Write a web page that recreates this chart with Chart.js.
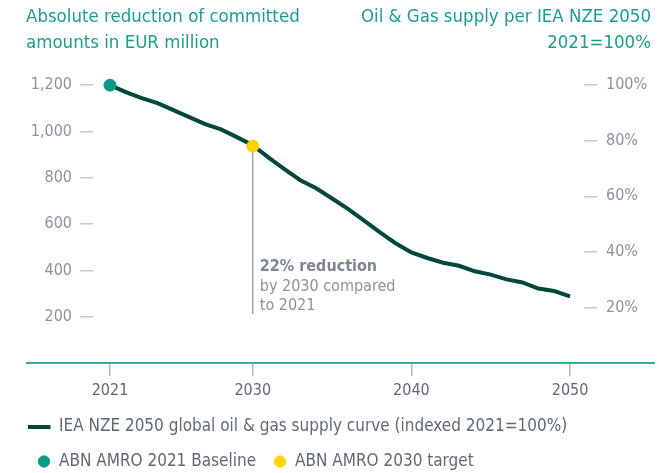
<!DOCTYPE html>
<html>
<head>
<meta charset="utf-8">
<script src="https://cdn.jsdelivr.net/npm/chart.js@4"></script>
<style>
  html, body { margin: 0; padding: 0; background: #fff; overflow: hidden; }
  #wrap { position: relative; width: 659px; height: 473px; }
  .title { position: absolute; top: 3px; font-family: "Liberation Sans Narrow", "DejaVu Sans Condensed", sans-serif; font-size: 18.5px; line-height: 26px; color: #1a9e89; }
  #tl { left: 26px; }
  #tr { right: 8px; text-align: right; }
  canvas { position: absolute; left: 0; top: 0; }
</style>
</head>
<body>
<div id="wrap">
  <canvas id="chart" width="659" height="473"></canvas>
  <div class="title" id="tl">Absolute reduction of committed<br>amounts in EUR million</div>
  <div class="title" id="tr">Oil &amp; Gas supply per IEA NZE 2050<br>2021=100%</div>
</div>
<script>
// data
const years = [2021, 2022, 2023, 2024, 2025, 2026, 2027, 2028, 2029, 2030,
  2031, 2032, 2033, 2034, 2035, 2036, 2037, 2038, 2039, 2040,
  2041, 2042, 2043, 2044, 2045, 2046, 2047, 2048, 2049, 2050];
const nzeSupply = [100, 97.5, 95.3, 93.5, 91.0, 88.5, 86.0, 84.1, 81.3, 78.4,
  73.9, 69.8, 65.8, 62.9, 59.2, 55.5, 51.3, 47.1, 43.1, 39.8,
  37.8, 36.1, 35.0, 33.0, 31.8, 30.1, 29.0, 26.8, 25.9, 24.0];
const baselineYear = 2021, baselineValue = 1200;
const targetYear = 2030, targetValue = 936;
const xTicks = [2021, 2030, 2040, 2050];
const leftTicks = [200, 400, 600, 800, 1000, 1200];
const rightTicks = [20, 40, 60, 80, 100];
const note = ['22% reduction', 'by 2030 compared', 'to 2021'];

const FONT = '"Liberation Sans Narrow", "DejaVu Sans Condensed", sans-serif';
const LINE = '#00483a', TEAL = '#0f9a85', YELLOW = '#ffd100';
const GREY = '#8a949d', DARK = '#5f6a72', TICK = '#c3c9ce';

// legend marker for the curve: a short thick bar, sitting left of the marker centre
const lineMark = document.createElement('canvas');
lineMark.width = 33; lineMark.height = 4;
lineMark.getContext('2d').fillStyle = LINE;
lineMark.getContext('2d').fillRect(0, 0, 23, 4);

const extras = {
  id: 'extras',
  beforeDatasetsDraw(chart) {
    const { ctx, scales } = chart;
    const x = scales.x.getPixelForValue(targetYear);
    const yTop = scales.y.getPixelForValue(targetValue);
    const yBot = scales.y.getPixelForValue(212);
    ctx.save();
    ctx.strokeStyle = GREY;
    ctx.lineWidth = 1.2;
    ctx.beginPath();
    ctx.moveTo(x, yTop);
    ctx.lineTo(x, yBot);
    ctx.stroke();
    ctx.textBaseline = 'middle';
    ctx.fillStyle = '#7d8790';
    ctx.font = 'bold 16px ' + FONT;
    ctx.fillText(note[0], x + 7, yBot - 47);
    ctx.fillStyle = GREY;
    ctx.font = '16px ' + FONT;
    ctx.fillText(note[1], x + 7, yBot - 27);
    ctx.fillText(note[2], x + 7, yBot - 8);
    // axis line wider than the plot area
    const yb = chart.chartArea.bottom;
    ctx.strokeStyle = '#2fb09c';
    ctx.lineWidth = 2;
    ctx.beginPath();
    ctx.moveTo(26, yb);
    ctx.lineTo(655, yb);
    ctx.stroke();
    ctx.restore();
  }
};

new Chart(document.getElementById('chart'), {
  type: 'line',
  data: {
    datasets: [
      {
        label: 'IEA NZE 2050 global oil & gas supply curve (indexed 2021=100%)',
        data: years.map((y, i) => ({ x: y, y: nzeSupply[i] })),
        yAxisID: 'y2',
        borderColor: LINE,
        backgroundColor: LINE,
        borderWidth: 4,
        pointRadius: 0,
        pointStyle: lineMark,
        order: 3
      },
      {
        label: 'ABN AMRO 2021 Baseline',
        data: [{ x: baselineYear, y: baselineValue }],
        yAxisID: 'y',
        showLine: false,
        pointRadius: 6,
        pointStyle: 'circle',
        backgroundColor: TEAL,
        borderColor: TEAL,
        order: 1
      },
      {
        label: 'ABN AMRO 2030 target',
        data: [{ x: targetYear, y: targetValue }],
        yAxisID: 'y',
        showLine: false,
        pointRadius: 6,
        pointStyle: 'circle',
        backgroundColor: YELLOW,
        borderColor: YELLOW,
        order: 2
      }
    ]
  },
  options: {
    responsive: false,
    animation: false,
    layout: { padding: { left: 20, right: 0, top: 62, bottom: -7 } },
    plugins: {
      tooltip: { enabled: false },
      legend: {
        position: 'bottom',
        align: 'start',
        labels: {
          usePointStyle: true,
          boxWidth: 13,
          boxHeight: 8,
          padding: 17.5,
          color: DARK,
          font: { family: FONT, size: 17 },
          sort: (a, b) => a.datasetIndex - b.datasetIndex
        }
      }
    },
    scales: {
      x: {
        type: 'linear',
        min: 2019.93,
        max: 2050.88,
        afterBuildTicks: s => { s.ticks = xTicks.map(v => ({ value: v })); },
        afterFit: s => { s.height = 38; },
        grid: { drawOnChartArea: false, tickLength: 13, color: '#b3b9be', lineWidth: 1.5 },
        border: { display: false },
        ticks: { color: DARK, padding: 5, font: { family: FONT, size: 16 }, callback: v => String(v) }
      },
      y: {
        position: 'left',
        min: 0,
        max: 1300,
        afterBuildTicks: s => { s.ticks = leftTicks.map(v => ({ value: v })); },
        afterFit: s => { s.width = 73; },
        grid: { drawOnChartArea: false, tickLength: 13, color: TICK, lineWidth: 1.5 },
        border: { display: false },
        ticks: { color: GREY, padding: 8, font: { family: FONT, size: 16 }, callback: v => v.toLocaleString('en-US') }
      },
      y2: {
        position: 'right',
        min: 0,
        max: 1300 / 12,
        afterBuildTicks: s => { s.ticks = rightTicks.map(v => ({ value: v })); },
        afterFit: s => { s.width = 75; },
        grid: { drawOnChartArea: false, tickLength: 13, color: TICK, lineWidth: 1.5 },
        border: { display: false },
        ticks: { color: GREY, padding: 9, font: { family: FONT, size: 16 }, callback: v => v + '%' }
      }
    }
  },
  plugins: [extras]
});
</script>
</body>
</html>
